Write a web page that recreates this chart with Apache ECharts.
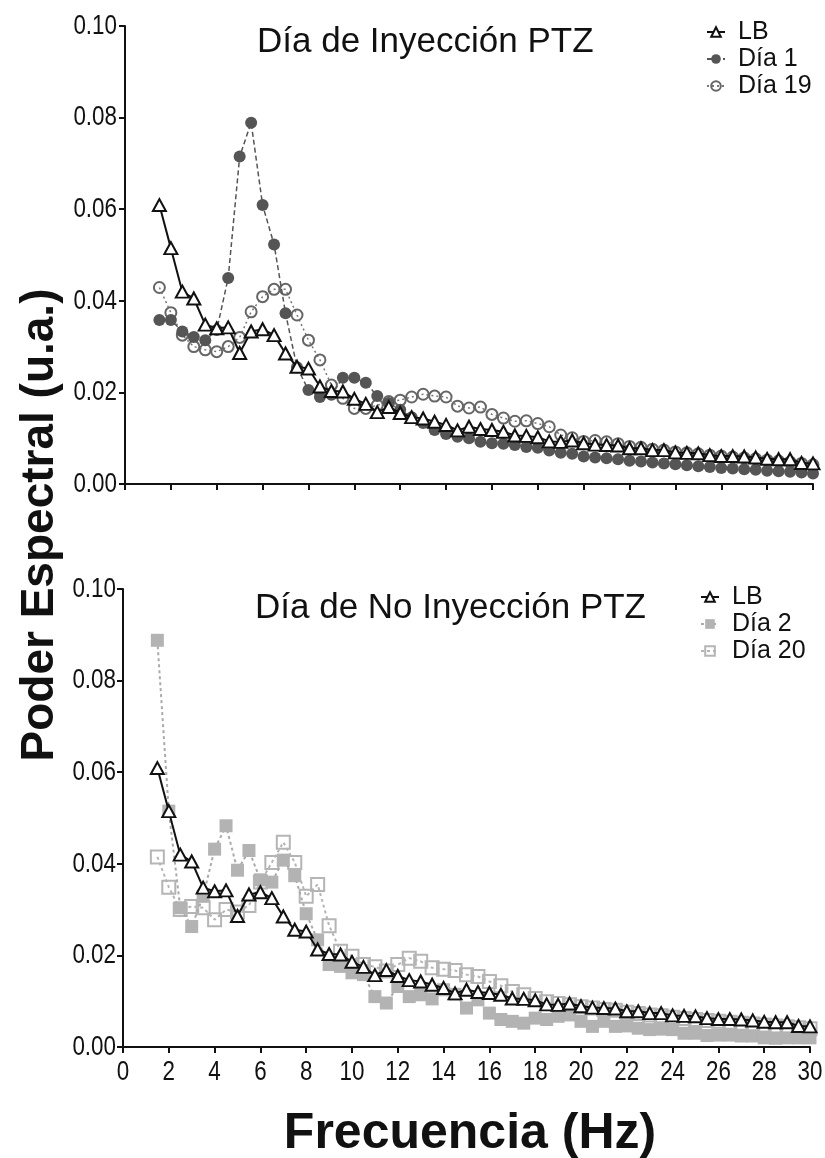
<!DOCTYPE html>
<html><head><meta charset="utf-8">
<script src="https://cdn.jsdelivr.net/npm/echarts@6/dist/echarts.min.js"></script>
<style>html,body{margin:0;padding:0;background:#fff}#c{width:825px;height:1158px}</style>
</head><body><div id="c"></div>
<script>
// Frequency (Hz)
const freq = [1.5,2,2.5,3,3.5,4,4.5,5,5.5,6,6.5,7,7.5,8,8.5,9,9.5,10,10.5,11,11.5,12,12.5,13,13.5,14,14.5,15,15.5,16,16.5,17,17.5,18,18.5,19,19.5,20,20.5,21,21.5,22,22.5,23,23.5,24,24.5,25,25.5,26,26.5,27,27.5,28,28.5,29,29.5,30];
// Línea base
const lb = [0.0609,0.0515,0.0420,0.0405,0.0348,0.0340,0.0342,0.0286,0.0333,0.0338,0.0325,0.0285,0.0256,0.0252,0.0213,0.0203,0.0202,0.0186,0.0175,0.0157,0.0168,0.0155,0.0146,0.0143,0.0136,0.0129,0.0117,0.0125,0.0120,0.0118,0.0114,0.0106,0.0105,0.0102,0.0093,0.0092,0.0095,0.0089,0.0086,0.0085,0.0084,0.0078,0.0078,0.0074,0.0074,0.0069,0.0068,0.0067,0.0063,0.0061,0.0061,0.0060,0.0058,0.0055,0.0054,0.0054,0.0046,0.0045];
// Día 1
const dia1 = [0.0358,0.0358,0.0333,0.0321,0.0314,0.0336,0.0450,0.0715,0.0789,0.0609,0.0523,0.0373,0.0255,0.0205,0.0190,0.0195,0.0232,0.0232,0.0221,0.0192,0.0177,0.0162,0.0146,0.0133,0.0118,0.0109,0.0103,0.0100,0.0092,0.0089,0.0088,0.0085,0.0081,0.0079,0.0073,0.0068,0.0066,0.0060,0.0058,0.0056,0.0054,0.0051,0.0049,0.0047,0.0045,0.0043,0.0041,0.0039,0.0037,0.0035,0.0034,0.0032,0.0031,0.0029,0.0028,0.0027,0.0025,0.0023];
// Día 19
const dia19 = [0.0429,0.0374,0.0325,0.0300,0.0293,0.0289,0.0300,0.0320,0.0376,0.0409,0.0425,0.0425,0.0369,0.0314,0.0271,0.0216,0.0187,0.0165,0.0165,0.0172,0.0180,0.0183,0.0190,0.0196,0.0192,0.0190,0.0170,0.0166,0.0168,0.0152,0.0144,0.0137,0.0138,0.0132,0.0125,0.0107,0.0101,0.0093,0.0095,0.0092,0.0088,0.0082,0.0080,0.0076,0.0074,0.0070,0.0068,0.0066,0.0063,0.0061,0.0059,0.0057,0.0055,0.0052,0.0050,0.0048,0.0045,0.0042];
// Día 2
const dia2 = [0.0888,0.0515,0.0304,0.0263,0.0329,0.0432,0.0483,0.0386,0.0429,0.0365,0.0360,0.0408,0.0374,0.0291,0.0234,0.0180,0.0176,0.0162,0.0158,0.0110,0.0096,0.0132,0.0110,0.0114,0.0105,0.0125,0.0115,0.0085,0.0103,0.0074,0.0060,0.0056,0.0052,0.0063,0.0060,0.0067,0.0070,0.0056,0.0045,0.0056,0.0045,0.0046,0.0041,0.0038,0.0039,0.0038,0.0030,0.0030,0.0025,0.0026,0.0026,0.0024,0.0024,0.0020,0.0019,0.0020,0.0020,0.0020];
// Día 20
const dia20 = [0.0415,0.0349,0.0300,0.0307,0.0304,0.0278,0.0300,0.0295,0.0309,0.0360,0.0403,0.0447,0.0403,0.0329,0.0355,0.0265,0.0209,0.0198,0.0180,0.0175,0.0166,0.0180,0.0194,0.0187,0.0173,0.0170,0.0167,0.0158,0.0154,0.0143,0.0134,0.0121,0.0114,0.0106,0.0099,0.0095,0.0092,0.0088,0.0085,0.0082,0.0080,0.0076,0.0073,0.0070,0.0068,0.0065,0.0062,0.0060,0.0058,0.0056,0.0054,0.0052,0.0050,0.0048,0.0046,0.0044,0.0042,0.0040];

// Tick labels
const xTickValues = [0,2,4,6,8,10,12,14,16,18,20,22,24,26,28,30];
const xTickLabels = ['0','2','4','6','8','10','12','14','16','18','20','22','24','26','28','30'];
const yTickValues = [0,0.02,0.04,0.06,0.08,0.10];
const yTickLabels = ['0.00','0.02','0.04','0.06','0.08','0.10'];

const titleTop = 'Día de Inyección PTZ';
const titleBottom = 'Día de No Inyección PTZ';
const yName = 'Poder Espectral (u.a.)';
const xName = 'Frecuencia (Hz)';

const SANS = "'Liberation Sans',Arial,sans-serif";

function pts(ys){ return freq.map((f,i)=>[f, ys[i]]); }

function xAx(gi){
  return {type:'value', gridIndex:gi, min:0, max:30, interval:2,
    axisLine:{lineStyle:{color:'#111', width:2}},
    axisTick:{show:true, length:6, lineStyle:{color:'#111', width:2}},
    axisLabel:{show:false}, splitLine:{show:false}};
}
function yAx(gi){
  return {type:'value', gridIndex:gi, min:0, max:0.1, interval:0.02,
    axisLine:{show:true, lineStyle:{color:'#111', width:2}},
    axisTick:{show:true, length:6, lineStyle:{color:'#111', width:2}},
    axisLabel:{show:false}, splitLine:{show:false}};
}

const lbStyle = (xi) => ({
  name:'LB', type:'line', xAxisIndex:xi, yAxisIndex:xi, data:pts(lb),
  symbol:'triangle', symbolSize:[13,12],
  itemStyle:{color:'#fff', borderColor:'#111', borderWidth:2},
  lineStyle:{color:'#111', width:2}, z:5
});

const chart = echarts.init(document.getElementById('c'));
chart.setOption({
  animation:false,
  backgroundColor:'#fff',
  textStyle:{fontFamily:SANS},
  title:[
    {text:titleTop, left:252, top:20, textStyle:{fontFamily:SANS, fontSize:35, fontWeight:'normal', color:'#111'}},
    {text:titleBottom, left:250, top:586, textStyle:{fontFamily:SANS, fontSize:35, fontWeight:'normal', color:'#111'}}
  ],
  legend:[
    {data:['LB','Día 1','Día 19'], orient:'vertical', left:701, top:14, itemGap:1, itemWidth:18, itemHeight:12,
     textStyle:{fontFamily:SANS, fontSize:25, color:'#111', lineHeight:26, padding:[0,0,0,8]}},
    {data:['LB','Día 2','Día 20'], orient:'vertical', left:695, top:579, itemGap:1, itemWidth:18, itemHeight:12,
     textStyle:{fontFamily:SANS, fontSize:25, color:'#111', lineHeight:26, padding:[0,0,0,8]}}
  ],
  grid:[
    {left:125, right:12, top:26, height:458},
    {left:123, right:15, top:589, height:458}
  ],
  xAxis:[xAx(0), xAx(1)],
  yAxis:[yAx(0), yAx(1)],
  series:[
    {name:'Día 19', type:'line', xAxisIndex:0, yAxisIndex:0, data:pts(dia19),
     symbol:'circle', symbolSize:11,
     itemStyle:{color:'rgba(255,255,255,0)', borderColor:'#666', borderWidth:2},
     lineStyle:{color:'#777', width:1.5, type:[2,3]}, z:2},
    {name:'Día 1', type:'line', xAxisIndex:0, yAxisIndex:0, data:pts(dia1),
     symbol:'circle', symbolSize:12,
     itemStyle:{color:'#555', borderColor:'#555', borderWidth:0},
     lineStyle:{color:'#555', width:1.5, type:[5,3]}, z:3},
    lbStyle(0),
    {name:'Día 20', type:'line', xAxisIndex:1, yAxisIndex:1, data:pts(dia20),
     symbol:'rect', symbolSize:13,
     itemStyle:{color:'rgba(255,255,255,0)', borderColor:'#b5b5b5', borderWidth:2},
     lineStyle:{color:'#b5b5b5', width:2, type:[3,3]}, z:2},
    {name:'Día 2', type:'line', xAxisIndex:1, yAxisIndex:1, data:pts(dia2),
     symbol:'rect', symbolSize:13,
     itemStyle:{color:'#b3b3b3', borderWidth:0},
     lineStyle:{color:'#aaa', width:2, type:[3,3]}, z:3},
    lbStyle(1)
  ]
});

// Condensed tick labels placed through the axes' own scales
const tickFont = {fontFamily:SANS, fontSize:28, fill:'#111'};
const SX = 0.8;
const g = [
  {type:'text', x:40, y:525, rotation:Math.PI/2, style:{text:yName, fontFamily:SANS, fontWeight:'bold', fontSize:46, fill:'#111', align:'center', verticalAlign:'middle'}},
  {type:'text', x:470, y:1134, style:{text:xName, fontFamily:SANS, fontWeight:'bold', fontSize:50, fill:'#111', align:'center', verticalAlign:'middle'}}
];
[0,1].forEach(gi => {
  yTickValues.forEach((v,i) => {
    const p = chart.convertToPixel({xAxisIndex:gi, yAxisIndex:gi}, [0, v]);
    g.push({type:'text', x:p[0] - (gi===0 ? 8 : 7), y:p[1], scaleX:SX, silent:true,
      style:Object.assign({text:yTickLabels[i], align:'right', verticalAlign:'middle'}, tickFont)});
  });
});
xTickValues.forEach((v,i) => {
  const p = chart.convertToPixel({xAxisIndex:1, yAxisIndex:1}, [v, 0]);
  g.push({type:'text', x:p[0], y:p[1] + 11, scaleX:SX, silent:true,
    style:Object.assign({text:xTickLabels[i], align:'center', verticalAlign:'top'}, tickFont)});
});
chart.setOption({graphic:g});
</script></body></html>
